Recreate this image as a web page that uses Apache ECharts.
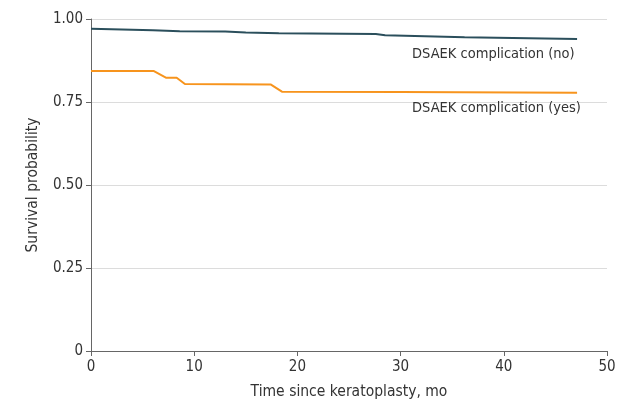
<!DOCTYPE html>
<html>
<head>
<meta charset="utf-8">
<script src="https://cdn.jsdelivr.net/npm/echarts@6/dist/echarts.min.js"></script>
<style>
  html, body { margin: 0; padding: 0; background: #fff; }
  #chart { width: 621px; height: 400px; }
</style>
</head>
<body>
<div id="chart"></div>
<script>
// Kaplan-Meier style curves, months vs survival probability
const noMonths = [0, 6, 8.6, 13, 15, 18.2, 27.6, 28.5, 36.2, 47.1];
const noSurvival = [0.971, 0.966, 0.963, 0.962, 0.959, 0.957, 0.955, 0.951, 0.945, 0.940];

const yesMonths = [0, 6.1, 7.3, 8.3, 9.1, 17.4, 18.5, 30, 47.1];
const yesSurvival = [0.843, 0.843, 0.823, 0.823, 0.804, 0.803, 0.781, 0.780, 0.778];

const xTicks = [0, 10, 20, 30, 40, 50];
const yTicks = [0, 0.25, 0.5, 0.75, 1];

const font = "'Liberation Sans Narrow', 'DejaVu Sans Condensed', 'Liberation Sans', sans-serif";

const chart = echarts.init(document.getElementById('chart'));

const pairs = (xs, ys) => xs.map((x, i) => [x, ys[i]]);

// label sits under the end of each curve, left edges lined up
const endLabel = name => ({
  show: true,
  formatter: name,
  align: 'left',
  verticalAlign: 'top',
  offset: [-173, 8],
  color: '#333',
  fontSize: 14.5,
  fontFamily: font
});

chart.setOption({
  animation: false,
  grid: { left: 91, right: 14, top: 19, bottom: 49, outerBoundsMode: 'none' },
  xAxis: {
    type: 'value',
    min: 0,
    max: 50,
    interval: 10,
    name: 'Time since keratoplasty, mo',
    nameLocation: 'middle',
    nameGap: 33,
    nameTextStyle: { color: '#333', fontSize: 15.5, fontFamily: font },
    axisLine: { lineStyle: { color: '#666', width: 1 } },
    axisTick: { show: true, length: 5, lineStyle: { color: '#666' } },
    axisLabel: { color: '#333', fontSize: 15, fontFamily: font, margin: 9 },
    splitLine: { show: false }
  },
  yAxis: {
    type: 'value',
    min: 0,
    max: 1,
    interval: 0.25,
    name: 'Survival probability',
    nameLocation: 'middle',
    nameGap: 50,
    nameTextStyle: { color: '#333', fontSize: 15.5, fontFamily: font },
    axisLine: { show: true, lineStyle: { color: '#666', width: 1 } },
    axisTick: { show: true, length: 5, lineStyle: { color: '#666' } },
    axisLabel: {
      color: '#333', fontSize: 15, fontFamily: font, margin: 8,
      formatter: v => (v === 0 ? '0' : v.toFixed(2))
    },
    splitLine: { show: true, lineStyle: { color: '#dcdcdc', width: 1 } }
  },
  series: [
    {
      name: 'DSAEK complication (no)',
      type: 'line',
      data: pairs(noMonths, noSurvival),
      showSymbol: false,
      symbol: 'none',
      lineStyle: { color: '#2b4f5c', width: 2 },
      itemStyle: { color: '#2b4f5c' },
      endLabel: endLabel('DSAEK complication (no)')
    },
    {
      name: 'DSAEK complication (yes)',
      type: 'line',
      data: pairs(yesMonths, yesSurvival),
      showSymbol: false,
      symbol: 'none',
      lineStyle: { color: '#f7941d', width: 2 },
      itemStyle: { color: '#f7941d' },
      endLabel: endLabel('DSAEK complication (yes)')
    }
  ]
});

window.addEventListener('resize', () => chart.resize());
</script>
</body>
</html>
